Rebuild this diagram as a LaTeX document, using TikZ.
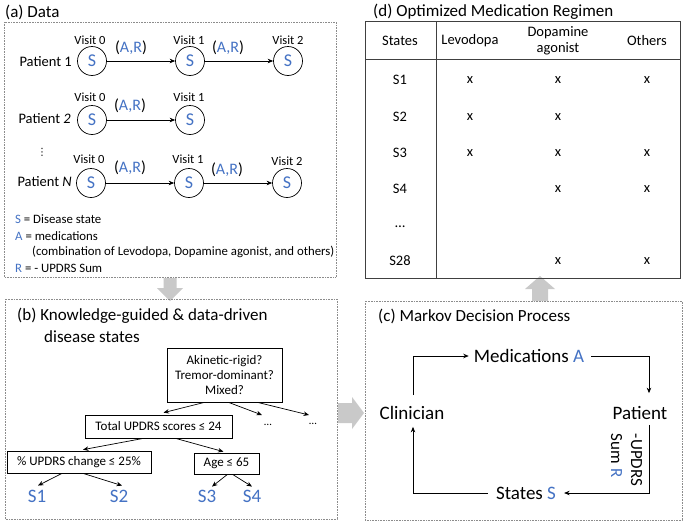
\documentclass[tikz,border=0pt]{standalone}
\usepackage{fontspec}
\setmainfont{Carlito}
\newfontfamily\symfont{DejaVu Sans}
\usetikzlibrary{arrows.meta,calc}
\definecolor{sblue}{HTML}{4472C4}
\definecolor{garrow}{HTML}{C9C9C9}
\definecolor{dotgray}{HTML}{8C8C8C}
\newcommand{\fsz}[2]{\fontsize{#1}{#2}\selectfont}
\begin{document}
\begin{tikzpicture}[x=1pt,y=-1pt,
  every node/.style={inner sep=2pt},
  panel/.style={draw=dotgray, densely dotted, line width=0.6pt},
  stc/.style={circle, draw, line width=0.7pt, minimum size=29pt, inner sep=0pt, font=\fsz{18}{20}, text=sblue},
  visit/.style={font=\fsz{12.5}{14}},
  arlab/.style={font=\fsz{16}{18}},
  patlab/.style={font=\fsz{14.5}{16}, anchor=east},
  leg/.style={font=\fsz{12.8}{15}, anchor=west},
  ttl/.style={font=\fsz{17}{20}, anchor=west},
  conn/.style={line width=0.7pt, -{Stealth[length=5.5pt,width=4.5pt]}},
  tbox/.style={draw, line width=0.7pt, font=\fsz{13}{15}, inner sep=0pt},
  leaf/.style={font=\fsz{19}{22}, text=sblue, inner sep=0pt},
  mdp/.style={font=\fsz{19}{22}, inner sep=3pt},
  tab/.style={font=\fsz{14.5}{17}},
  tline/.style={draw=black!75, line width=0.8pt},
]
\fill[white] (0,0) rectangle (685,525);
\useasboundingbox (0,0) rectangle (685,525);

% ---------------- (a) Data ----------------
\node[ttl] (ta) at (3,12) {(a) Data};
\draw[panel] (4,22) rectangle (336,277);

\node[stc] (p1a) at (92,61) {S};
\node[stc] (p1b) at (190,61) {S};
\node[stc] (p1c) at (288,61) {S};
\node[patlab] (pl1) at (74,62) {Patient 1};
\node[visit] (v1a) at (90,40) {Visit 0};
\node[visit] (v1b) at (189,40) {Visit 1};
\node[visit] (v1c) at (288,40) {Visit 2};
\node[arlab] (ar1a) at (131,47.5) {(\textcolor{sblue}{A,R})};
\node[arlab] (ar1b) at (228,47.5) {(\textcolor{sblue}{A,R})};
\draw[conn] (p1a) -- (p1b);
\draw[conn] (p1b) -- (p1c);

\node[stc] (p2a) at (92,120) {S};
\node[stc] (p2b) at (190,120) {S};
\node[patlab] (pl2) at (73,119) {Patient \textit{2}};
\node[visit] (v2a) at (90,97) {Visit 0};
\node[visit] (v2b) at (189,97) {Visit 1};
\node[arlab] (ar2a) at (130,106) {(\textcolor{sblue}{A,R})};
\draw[conn] (p2a) -- (p2b);

\node[font=\symfont\fsz{10}{12}] (vd) at (42,152) {⋮};

\node[stc] (pna) at (91,183) {S};
\node[stc] (pnb) at (189,183) {S};
\node[stc] (pnc) at (287,183) {S};
\node[patlab] (pln) at (74,182) {Patient \textit{N}};
\node[visit] (vna) at (89,159) {Visit 0};
\node[visit] (vnb) at (188,159) {Visit 1};
\node[visit] (vnc) at (287,161) {Visit 2};
\node[arlab] (arna) at (130,168) {(\textcolor{sblue}{A,R})};
\node[arlab] (arnb) at (227,170) {(\textcolor{sblue}{A,R})};
\draw[conn] (pna) -- (pnb);
\draw[conn] (pnb) -- (pnc);

\node[leg] (l1) at (13,219) {\textcolor{sblue}{S} = Disease state};
\node[leg] (l2) at (13,236) {\textcolor{sblue}{A} = medications};
\node[leg] (l3) at (30,252) {(combination of Levodopa, Dopamine agonist, and others)};
\node[leg] (l4) at (13,268) {\textcolor{sblue}{R} = - UPDRS Sum};

% ---------------- gray arrows ----------------
\fill[garrow] (163.5,278) -- (176.5,278) -- (176.5,288) -- (183,288) -- (170,301) -- (157,288) -- (163.5,288) -- cycle;
\fill[garrow] (338,403) -- (352,403) -- (352,397) -- (364,413) -- (352,429) -- (352,423) -- (338,423) -- cycle;
\fill[garrow] (532,301) -- (532,289) -- (525,289) -- (540,276) -- (555,289) -- (548,289) -- (548,301) -- cycle;

% ---------------- (b) ----------------
\draw[panel] (5,299) rectangle (337,519);
\node[ttl] (tb1) at (15,316) {(b) Knowledge-guided \& data-driven};
\node[ttl] (tb2) at (42,337) {disease states};

\node[tbox, minimum width=115pt, minimum height=54pt, align=center] (ak) at (224.5,375) {Akinetic-rigid?\\Tremor-dominant?\\Mixed?};
\node[tbox, minimum width=147pt, minimum height=23pt] (tot) at (158.5,426.5) {Total UPDRS scores ≤ 24};
\node[tbox, minimum width=144pt, minimum height=22pt] (pct) at (79,462) {\% UPDRS change ≤ 25\%};
\node[tbox, minimum width=65pt, minimum height=21pt] (age) at (226.5,463.5) {Age ≤ 65};
\node[font=\fsz{11}{12}] (d1) at (268,425) {…};
\node[font=\fsz{11}{12}] (d2) at (313,424) {…};
\node[leaf] (s1) at (37,496) {S1};
\node[leaf] (s2) at (119,496) {S2};
\node[leaf] (s3) at (207,496) {S3};
\node[leaf] (s4) at (252,496) {S4};

\draw[conn] ([xshift=-20pt]ak.south) -- ([xshift=5pt,yshift=2pt]tot.north);
\draw[conn] ([xshift=4pt]ak.south) -- ([xshift=-6pt,yshift=10pt]d1.center);
\draw[conn] ([xshift=33pt]ak.south) -- ([xshift=-4pt,yshift=9pt]d2.center);
\draw[conn] ([xshift=-15pt]tot.south) -- ([xshift=4pt,yshift=1pt]pct.north);
\draw[conn] ([xshift=17pt]tot.south) -- ([xshift=-3pt,yshift=1pt]age.north);
\draw[conn] ([xshift=-17pt]pct.south) -- ([xshift=1pt,yshift=4pt]s1.north);
\draw[conn] ([xshift=4pt]pct.south) -- ([xshift=3pt,yshift=4pt]s2.north);
\draw[conn] ([xshift=1pt]age.south) -- ([xshift=5pt,yshift=3pt]s3.north);
\draw[conn] ([xshift=6pt]age.south) -- ([xshift=0pt,yshift=3pt]s4.north);

% ---------------- (c) ----------------
\draw[panel] (365,301) rectangle (682,520);
\node[ttl] (tc) at (376,316) {(c) Markov Decision Process};
\node[mdp] (clin) at (412,413) {Clinician};
\node[mdp] (med) at (529,356) {Medications \textcolor{sblue}{A}};
\node[mdp] (pat) at (640,413) {Patient};
\node[mdp] (st) at (526,493) {States \textcolor{sblue}{S}};
\node[font=\fsz{17}{20}, rotate=-90, align=left, inner sep=0pt] (rew) at (626.5,460) {-UPDRS\\Sum \textcolor{sblue}{R}};

\draw[conn] ([xshift=1pt,yshift=8pt]clin.north) |- ([xshift=-2pt]med.west);
\draw[conn] ([xshift=4pt]med.east) -| ([xshift=9pt,yshift=10pt]pat.north);
\draw[conn] ([xshift=9pt,yshift=-2pt]pat.south) |- ([xshift=5pt]st.east);
\draw[conn] ([xshift=-5pt]st.west) -| ([xshift=1pt,yshift=-4pt]clin.south);

% ---------------- (d) ----------------
\node[ttl] (td) at (371,12) {(d) Optimized Medication Regimen};
\draw[tline] (365,21) rectangle (680,278);
\draw[tline] (365,59) -- (680,59);
\draw[tline] (436,21) -- (436,278);

\node[tab] (hs) at (400,41) {States};
\node[tab] (hl) at (470,41) {Levodopa};
\node[tab, align=center, font=\fsz{14.5}{16.5}] (hd) at (558,41) {Dopamine\\agonist};
\node[tab] (ho) at (647,41) {Others};

\node[tab] (r1) at (400,80) {S1};
\node[tab] (r2) at (400,117) {S2};
\node[tab] (r3) at (400,153) {S3};
\node[tab] (r4) at (400,189) {S4};
\node[tab] (r5) at (400,227) {…};
\node[tab] (r6) at (400,261) {S28};

\node[tab] (x1l) at (470,80) {x};
\node[tab] (x1d) at (558,80) {x};
\node[tab] (x1o) at (647,80) {x};
\node[tab] (x2l) at (470,117) {x};
\node[tab] (x2d) at (558,117) {x};
\node[tab] (x3l) at (470,153) {x};
\node[tab] (x3d) at (558,153) {x};
\node[tab] (x3o) at (647,153) {x};
\node[tab] (x4d) at (558,189) {x};
\node[tab] (x4o) at (647,189) {x};
\node[tab] (x6d) at (558,261) {x};
\node[tab] (x6o) at (647,261) {x};
\end{tikzpicture}
\end{document}
